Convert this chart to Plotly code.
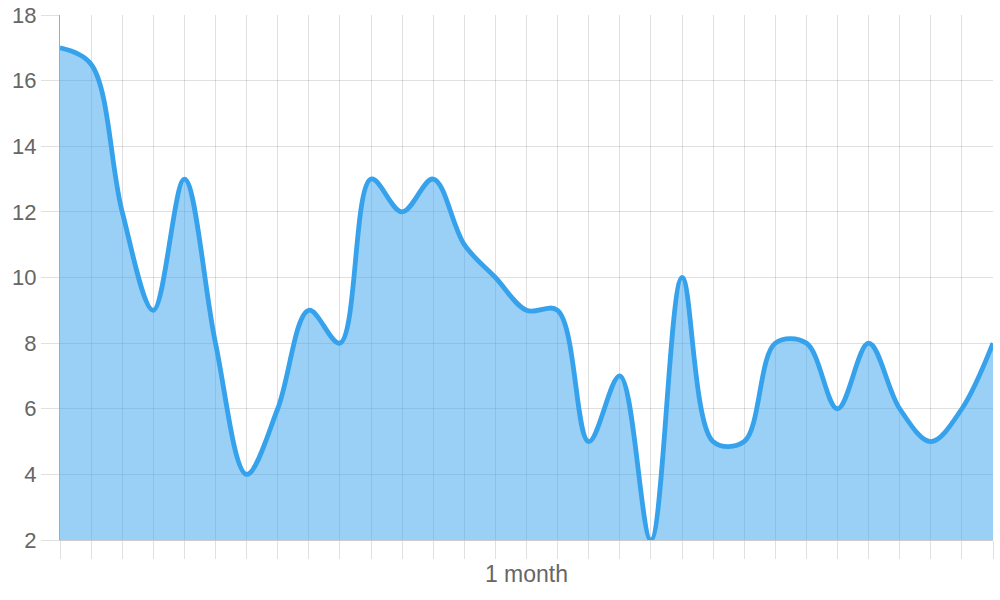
import plotly.graph_objects as go

days = list(range(31))
values = [17, 16.5, 12, 9, 13, 8, 4, 6, 9, 8, 13, 12, 13, 11, 10, 9, 9, 5, 7, 2,
          10, 5, 5, 8, 8, 6, 8, 6, 5, 6, 8]
y_ticks = [2, 4, 6, 8, 10, 12, 14, 16, 18]
x_title = "1 month"

fig = go.Figure()
fig.add_trace(go.Scatter(
    x=days, y=values, mode="lines",
    line=dict(color="#36a2eb", width=4.8, shape="spline", smoothing=1.0),
    fill="tozeroy", fillcolor="rgba(54,162,235,0.5)",
    hoverinfo="skip", showlegend=False,
))

font = dict(family="Liberation Sans, Arial, sans-serif", size=22, color="#666666")
title_font = dict(family="Liberation Sans, Arial, sans-serif", size=23, color="#666666")
grid = "rgba(0,0,0,0.12)"
fig.update_layout(
    width=1000, height=600,
    margin=dict(l=60, r=7, t=15, b=60, autoexpand=False),
    paper_bgcolor="white", plot_bgcolor="white",
    font=font,
    xaxis=dict(
        range=[0, 30], tickmode="linear", tick0=0, dtick=1,
        showticklabels=False, ticks="outside", ticklen=18, tickcolor="#e0e0e0",
        showgrid=True, gridcolor=grid, gridwidth=1,
        showline=True, linecolor="#cccccc", linewidth=1,
        zeroline=False, automargin=False,
        title=dict(text=x_title, font=title_font, standoff=7),
    ),
    yaxis=dict(
        range=[2, 18], tickvals=y_ticks,
        ticks="outside", ticklen=18, tickcolor="#e0e0e0",
        showgrid=True, gridcolor=grid, gridwidth=1,
        showline=True, linecolor="#aaaaaa", linewidth=1,
        zeroline=False, tickfont=font, automargin=False,
    ),
)
fig.write_html(
    "out.html",
    config={"displayModeBar": False},
    post_script="document.body.style.margin='0';document.body.style.overflow='hidden';",
)
